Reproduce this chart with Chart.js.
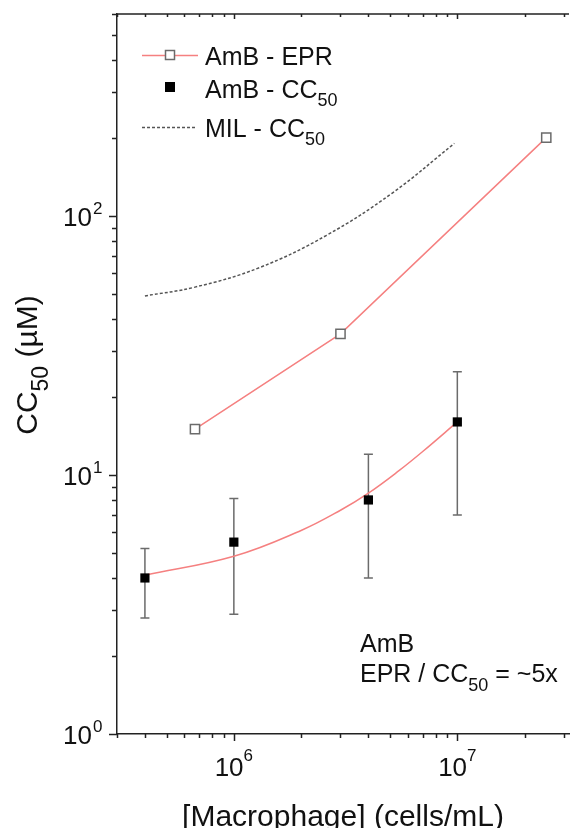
<!DOCTYPE html>
<html>
<head>
<meta charset="utf-8">
<script src="https://cdn.jsdelivr.net/npm/chart.js@4.4.1/dist/chart.umd.min.js"></script>
<style>
  html, body { margin: 0; padding: 0; background: #fff; overflow: hidden; }
  #box { width: 577px; height: 828px; }
</style>
</head>
<body>
<div id="box"><canvas id="ccChart" width="577" height="828"></canvas></div>
<script>
/* data */
const eprX = [6.7e5, 3e6, 2.5e7];
const eprY = [15, 35, 200];

const cc50X = [4e5, 1e6, 4e6, 1e7];
const cc50Y = [4, 5.5, 8, 16];
const cc50Lo = [2.8, 2.9, 4, 7];
const cc50Hi = [5.2, 8.1, 12, 25];

const fitX = [4e5, 1e6, 2e6, 3e6, 4e6, 5.5e6, 7e6, 1e7];
const fitY = [4.1, 4.85, 6.1, 7.3, 8.5, 10.4, 12.3, 16];

const milX = [4e5, 6.7e5, 1.3e6, 2.6e6, 5.1e6, 9.7e6];
const milY = [49, 53, 63, 84, 122, 190];

const xTickExp = [6, 7];
const yTickExp = [0, 1, 2];

const FONT = '"Liberation Sans", Arial, Helvetica, sans-serif';
const RED = '#f58080';
const toPts = (xs, ys) => xs.map((v, i) => ({ x: v, y: ys[i] }));

/* text with optional sub/superscript parts */
function rich(ctx, parts, x, y, size, align) {
  const widths = parts.map(p => {
    ctx.font = (p.sub || p.sup ? Math.round(size * p.k) : size) + 'px ' + FONT;
    return ctx.measureText(p.t).width;
  });
  const total = widths.reduce((a, b) => a + b, 0);
  let cx = align === 'center' ? x - total / 2 : align === 'right' ? x - total : x;
  ctx.textAlign = 'left';
  ctx.textBaseline = 'alphabetic';
  parts.forEach((p, i) => {
    ctx.font = (p.sub || p.sup ? Math.round(size * p.k) : size) + 'px ' + FONT;
    const dy = p.sub ? p.off : p.sup ? -p.off : 0;
    ctx.fillText(p.t, cx, y + dy);
    cx += widths[i];
  });
  return total;
}

const errorBars = {
  id: 'errorBars',
  beforeDatasetsDraw(chart) {
    const { ctx, scales: { x, y } } = chart;
    ctx.save();
    ctx.strokeStyle = '#6b6b6b';
    ctx.lineWidth = 1.5;
    cc50X.forEach((v, i) => {
      const px = x.getPixelForValue(v);
      const top = y.getPixelForValue(cc50Hi[i]);
      const bot = y.getPixelForValue(cc50Lo[i]);
      ctx.beginPath();
      ctx.moveTo(px, top); ctx.lineTo(px, bot);
      ctx.moveTo(px - 4.5, top); ctx.lineTo(px + 4.5, top);
      ctx.moveTo(px - 4.5, bot); ctx.lineTo(px + 4.5, bot);
      ctx.stroke();
    });
    ctx.restore();
  }
};

const decor = {
  id: 'decor',
  afterDraw(chart) {
    const { ctx, chartArea: a, scales: { x, y } } = chart;
    ctx.save();
    ctx.strokeStyle = '#222';
    ctx.lineWidth = 1.5;
    ctx.beginPath();
    // top frame line
    ctx.moveTo(a.left, a.top); ctx.lineTo(a.right, a.top);
    // x ticks (bottom outside, top inside)
    for (let d = 1e5; d <= 1e8; d *= 10) {
      for (let m = 1; m <= 9; m++) {
        const v = d * m;
        if (v < x.min || v > x.max) continue;
        const px = Math.round(x.getPixelForValue(v)) + 0.5;
        ctx.moveTo(px, a.bottom); ctx.lineTo(px, a.bottom + (m === 1 ? 7 : 4));
        ctx.moveTo(px, a.top); ctx.lineTo(px, a.top + (m === 1 ? 5 : 3));
      }
    }
    // y ticks (left outside)
    for (let d = 1; d <= 1000; d *= 10) {
      for (let m = 1; m <= 9; m++) {
        const v = d * m;
        if (v < y.min || v > y.max) continue;
        const py = Math.round(y.getPixelForValue(v)) + 0.5;
        ctx.moveTo(a.left - (m === 1 ? 8 : 5), py); ctx.lineTo(a.left, py);
      }
    }
    ctx.stroke();

    ctx.fillStyle = '#111';
    // y tick labels
    yTickExp.forEach(e => {
      const py = y.getPixelForValue(Math.pow(10, e));
      ctx.font = '26px ' + FONT;
      ctx.textAlign = 'right';
      ctx.textBaseline = 'alphabetic';
      ctx.fillText('10', 92, py + 10);
      ctx.font = '17px ' + FONT;
      ctx.textAlign = 'left';
      ctx.fillText(String(e), 93, py - 2);
    });
    // x tick labels
    xTickExp.forEach(e => {
      const px = x.getPixelForValue(Math.pow(10, e));
      rich(ctx, [{ t: '10' }, { t: String(e), sup: true, k: 0.65, off: 15 }], px, a.bottom + 42, 26, 'center');
    });

    // axis titles
    rich(ctx, [{ t: '[Macrophage] (cells/mL)' }], (a.left + a.right) / 2, 826, 30, 'center');
    ctx.save();
    ctx.translate(37, 365);
    ctx.rotate(-Math.PI / 2);
    rich(ctx, [{ t: 'CC' }, { t: '50', sub: true, k: 0.75, off: 11 }, { t: ' (\u00b5M)' }], 0, 0, 30, 'center');
    ctx.restore();

    // legend
    ctx.lineWidth = 1.5;
    ctx.strokeStyle = RED;
    ctx.beginPath(); ctx.moveTo(142, 55.5); ctx.lineTo(198, 55.5); ctx.stroke();
    ctx.fillStyle = '#fff';
    ctx.fillRect(165, 50, 10, 10);
    ctx.strokeStyle = '#6b6b6b';
    ctx.strokeRect(165.5, 50.5, 9, 9);
    ctx.fillStyle = '#000';
    ctx.fillRect(165, 82, 10, 10);
    ctx.strokeStyle = '#555';
    ctx.setLineDash([3, 2]);
    ctx.beginPath(); ctx.moveTo(142, 127.5); ctx.lineTo(195, 127.5); ctx.stroke();
    ctx.setLineDash([]);
    ctx.fillStyle = '#111';
    rich(ctx, [{ t: 'AmB - EPR' }], 205, 65, 25, 'left');
    rich(ctx, [{ t: 'AmB - CC' }, { t: '50', sub: true, k: 0.72, off: 8 }], 205, 98, 25, 'left');
    rich(ctx, [{ t: 'MIL - CC' }, { t: '50', sub: true, k: 0.72, off: 8 }], 205, 137, 25, 'left');

    // annotation
    rich(ctx, [{ t: 'AmB' }], 360, 652, 25, 'left');
    rich(ctx, [{ t: 'EPR / CC' }, { t: '50', sub: true, k: 0.72, off: 9 }, { t: ' = ~5x' }], 360, 682, 25, 'left');
    ctx.restore();
  }
};

new Chart(document.getElementById('ccChart'), {
  type: 'line',
  data: {
    datasets: [
      {
        label: 'AmB - EPR',
        data: toPts(eprX, eprY),
        borderColor: RED,
        borderWidth: 1.5,
        pointStyle: 'rect',
        pointRadius: 6.5,
        pointBackgroundColor: '#fff',
        pointBorderColor: '#6b6b6b',
        pointBorderWidth: 1.5,
        tension: 0
      },
      {
        label: 'AmB - CC50',
        data: toPts(cc50X, cc50Y),
        showLine: false,
        pointStyle: 'rect',
        pointRadius: 6.5,
        pointBackgroundColor: '#000',
        pointBorderColor: '#000',
        pointBorderWidth: 0
      },
      {
        label: 'AmB - CC50 fit',
        data: toPts(fitX, fitY),
        borderColor: RED,
        borderWidth: 1.5,
        pointRadius: 0,
        tension: 0.4
      },
      {
        label: 'MIL - CC50',
        data: toPts(milX, milY),
        borderColor: '#555',
        borderWidth: 1.5,
        borderDash: [3, 2],
        pointRadius: 0,
        tension: 0.4
      }
    ]
  },
  options: {
    responsive: false,
    animation: false,
    devicePixelRatio: 1,
    layout: { padding: { top: 14, right: 0, left: 0, bottom: 0 } },
    plugins: { legend: { display: false }, tooltip: { enabled: false } },
    scales: {
      x: {
        type: 'logarithmic', min: 3e5, max: 3.16e7,
        grid: { display: false },
        border: { display: true, color: '#222', width: 1.5 },
        ticks: { display: false },
        afterFit(s) { s.height = 94; }
      },
      y: {
        type: 'logarithmic', min: 1, max: 600,
        grid: { display: false },
        border: { display: true, color: '#222', width: 1.5 },
        ticks: { display: false },
        afterFit(s) { s.width = 117; }
      }
    }
  },
  plugins: [errorBars, decor]
});
</script>
</body>
</html>
